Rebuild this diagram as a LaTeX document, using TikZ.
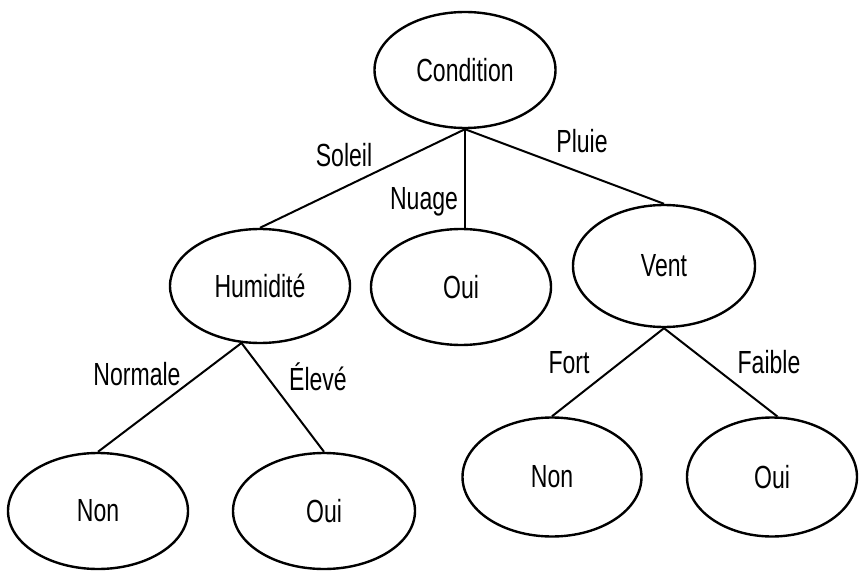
\documentclass[tikz,border=0pt]{standalone}
\usepackage{fontspec}
\setmainfont[FakeStretch=0.72]{Liberation Sans}
\usetikzlibrary{shapes.geometric}
\begin{document}
\begin{tikzpicture}[x=1pt,y=-1pt,
  ell/.style={draw=black,ellipse,line width=2.4pt,inner sep=0pt,minimum width=181pt,minimum height=116pt,font=\fontsize{32}{34}\selectfont},
  link/.style={draw=black,line width=2pt},
  lbl/.style={anchor=base,inner sep=0pt,font=\fontsize{32}{34}\selectfont}]
\useasboundingbox (0,0) rectangle (859,572);
\node[ell] (c) at (465,70) {Condition};
\node[ell,minimum width=180pt,minimum height=114pt] (h) at (260,286) {Humidité};
\node[ell,minimum width=180pt] (o1) at (461,287) {Oui};
\node[ell,minimum width=182pt,minimum height=122pt] (v) at (664,266) {Vent};
\node[ell,minimum width=180pt] (n1) at (98,511) {Non};
\node[ell,minimum width=182pt] (o2) at (324,511) {Oui};
\node[ell,minimum width=179pt,minimum height=119pt] (n2) at (552,477) {Non};
\node[ell,minimum width=170pt,minimum height=119pt] (o3) at (772,477) {Oui};
\draw[link] (c.south) -- (h.north);
\draw[link] (c.south) -- (c.south |- o1.north);
\draw[link] (c.south) -- (v.north);
\draw[link] (h.252) -- (n1.north);
\draw[link] (h.252) -- (o2.north);
\draw[link] (v.south) -- (n2.north);
\draw[link] (v.south) -- (o3.85);
\node[lbl] (ls) at (344,167) {Soleil};
\node[lbl] (ln) at (424,209) {Nuage};
\node[lbl] (lp) at (582,153) {Pluie};
\node[lbl] (lno) at (137,385) {Normale};
\node[lbl] (le) at (318,390) {Élevé};
\node[lbl] (lf) at (569,373) {Fort};
\node[lbl] (lfa) at (769,373) {Faible};
\end{tikzpicture}
\end{document}
